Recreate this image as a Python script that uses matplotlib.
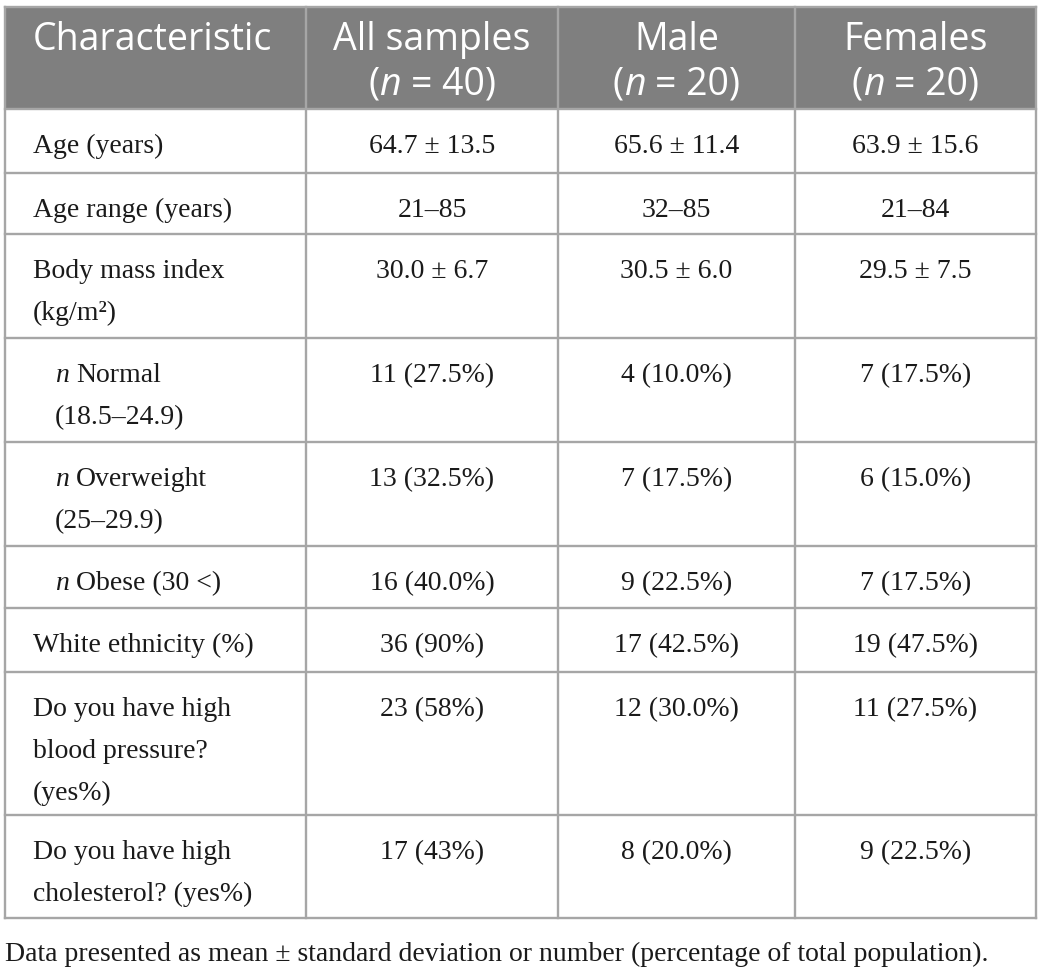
import matplotlib
matplotlib.use("Agg")
import matplotlib.pyplot as plt
from matplotlib.patches import Rectangle

# ---------------- data ----------------
headers = [
    [[("Characteristic", False)]],
    [[("All samples", False)], [("(", False), ("n", True), (" = 40)", False)]],
    [[("Male", False)], [("(", False), ("n", True), (" = 20)", False)]],
    [[("Females", False)], [("(", False), ("n", True), (" = 20)", False)]],
]
row_labels = [
    "Age (years)",
    "Age range (years)",
    "Body mass index\n(kg/m²)",
    "n Normal\n(18.5–24.9)",
    "n Overweight\n(25–29.9)",
    "n Obese (30 <)",
    "White ethnicity (%)",
    "Do you have high\nblood pressure?\n(yes%)",
    "Do you have high\ncholesterol? (yes%)",
]
all_samples = ["64.7 ± 13.5", "21–85", "30.0 ± 6.7", "11 (27.5%)", "13 (32.5%)",
               "16 (40.0%)", "36 (90%)", "23 (58%)", "17 (43%)"]
male = ["65.6 ± 11.4", "32–85", "30.5 ± 6.0", "4 (10.0%)", "7 (17.5%)",
        "9 (22.5%)", "17 (42.5%)", "12 (30.0%)", "8 (20.0%)"]
females = ["63.9 ± 15.6", "21–84", "29.5 ± 7.5", "7 (17.5%)", "6 (15.0%)",
           "7 (17.5%)", "19 (47.5%)", "11 (27.5%)", "9 (22.5%)"]
footnote = "Data presented as mean ± standard deviation or number (percentage of total population)."

# ---------------- layout ----------------
W, H = 1044, 973
col_edges = [5, 306, 558, 795, 1036]
row_edges = [7, 109, 173, 234, 338, 442, 546, 608, 672, 815, 918]
line_gap = 42
hdr_font = dict(family="Open Sans", size=27, color="white")
body_font = dict(family="Liberation Serif", size=20, color="#1a1a1a")
grid_col = "#a6a6a6"
hdr_bg = "#7f7f7f"

fig = plt.figure(figsize=(W / 100, H / 100), dpi=100)
ax = fig.add_axes([0, 0, 1, 1])
ax.set_xlim(0, W)
ax.set_ylim(H, 0)
ax.axis("off")
renderer = fig.canvas.get_renderer()


def width_of(s, fontkw, italic):
    if not s:
        return 0.0
    t = ax.text(0, 0, s, style="italic" if italic else "normal", **fontkw)
    w = t.get_window_extent(renderer).width
    t.remove()
    return w


def space_w(fontkw, italic=False):
    return width_of("x x", fontkw, italic) - width_of("xx", fontkw, italic)


def run_width(s, fontkw, italic):
    core = s.strip(" ")
    lead = len(s) - len(s.lstrip(" "))
    trail = len(s) - len(s.rstrip(" "))
    sp = space_w(fontkw, italic)
    return lead * sp, width_of(core, fontkw, italic), trail * sp


def draw_runs(x, y, runs, fontkw, ha="left"):
    parts = [run_width(s, fontkw, it) for s, it in runs]
    total = sum(a + b + c for a, b, c in parts)
    if ha == "center":
        x = x - total / 2
    for (s, it), (a, b, c) in zip(runs, parts):
        x += a
        ax.text(x, y, s.strip(" "), ha="left", va="baseline",
                style="italic" if it else "normal", **fontkw)
        x += b + c


# header background
ax.add_patch(Rectangle((col_edges[0], row_edges[0]), col_edges[-1] - col_edges[0],
                       row_edges[1] - row_edges[0], facecolor=hdr_bg, edgecolor="none", zorder=0))

# grid lines
for y in row_edges:
    ax.plot([col_edges[0], col_edges[-1]], [y, y], color=grid_col, lw=1.7, zorder=1,
            solid_capstyle="projecting")
for x in col_edges:
    ax.plot([x, x], [row_edges[0], row_edges[-1]], color=grid_col, lw=1.7, zorder=1,
            solid_capstyle="projecting")

# header texts
hdr_base = [50, 95]
for ci, lines in enumerate(headers):
    for li, runs in enumerate(lines):
        if ci == 0:
            draw_runs(33, hdr_base[li], runs, hdr_font, ha="left")
        else:
            xc = (col_edges[ci] + col_edges[ci + 1]) / 2
            draw_runs(xc, hdr_base[li], runs, hdr_font, ha="center")

# body
for ri, label in enumerate(row_labels):
    top = row_edges[ri + 1]
    for li, line in enumerate(label.split("\n")):
        yb = top + 44 + li * line_gap
        if ri in (3, 4, 5):
            x0 = 55
            if line.startswith("n "):
                draw_runs(x0, yb, [("n", True), (line[1:], False)], body_font)
            else:
                draw_runs(x0, yb, [(line, False)], body_font)
        else:
            draw_runs(33, yb, [(line, False)], body_font)
    for ci, col in enumerate([all_samples, male, females], start=1):
        xc = (col_edges[ci] + col_edges[ci + 1]) / 2
        ax.text(xc, top + 44, col[ri], ha="center", va="baseline", **body_font)

ax.text(5, 961, footnote, ha="left", va="baseline",
        family="Liberation Serif", size=20, color="#1a1a1a")

fig.savefig("out.png", dpi=100)
